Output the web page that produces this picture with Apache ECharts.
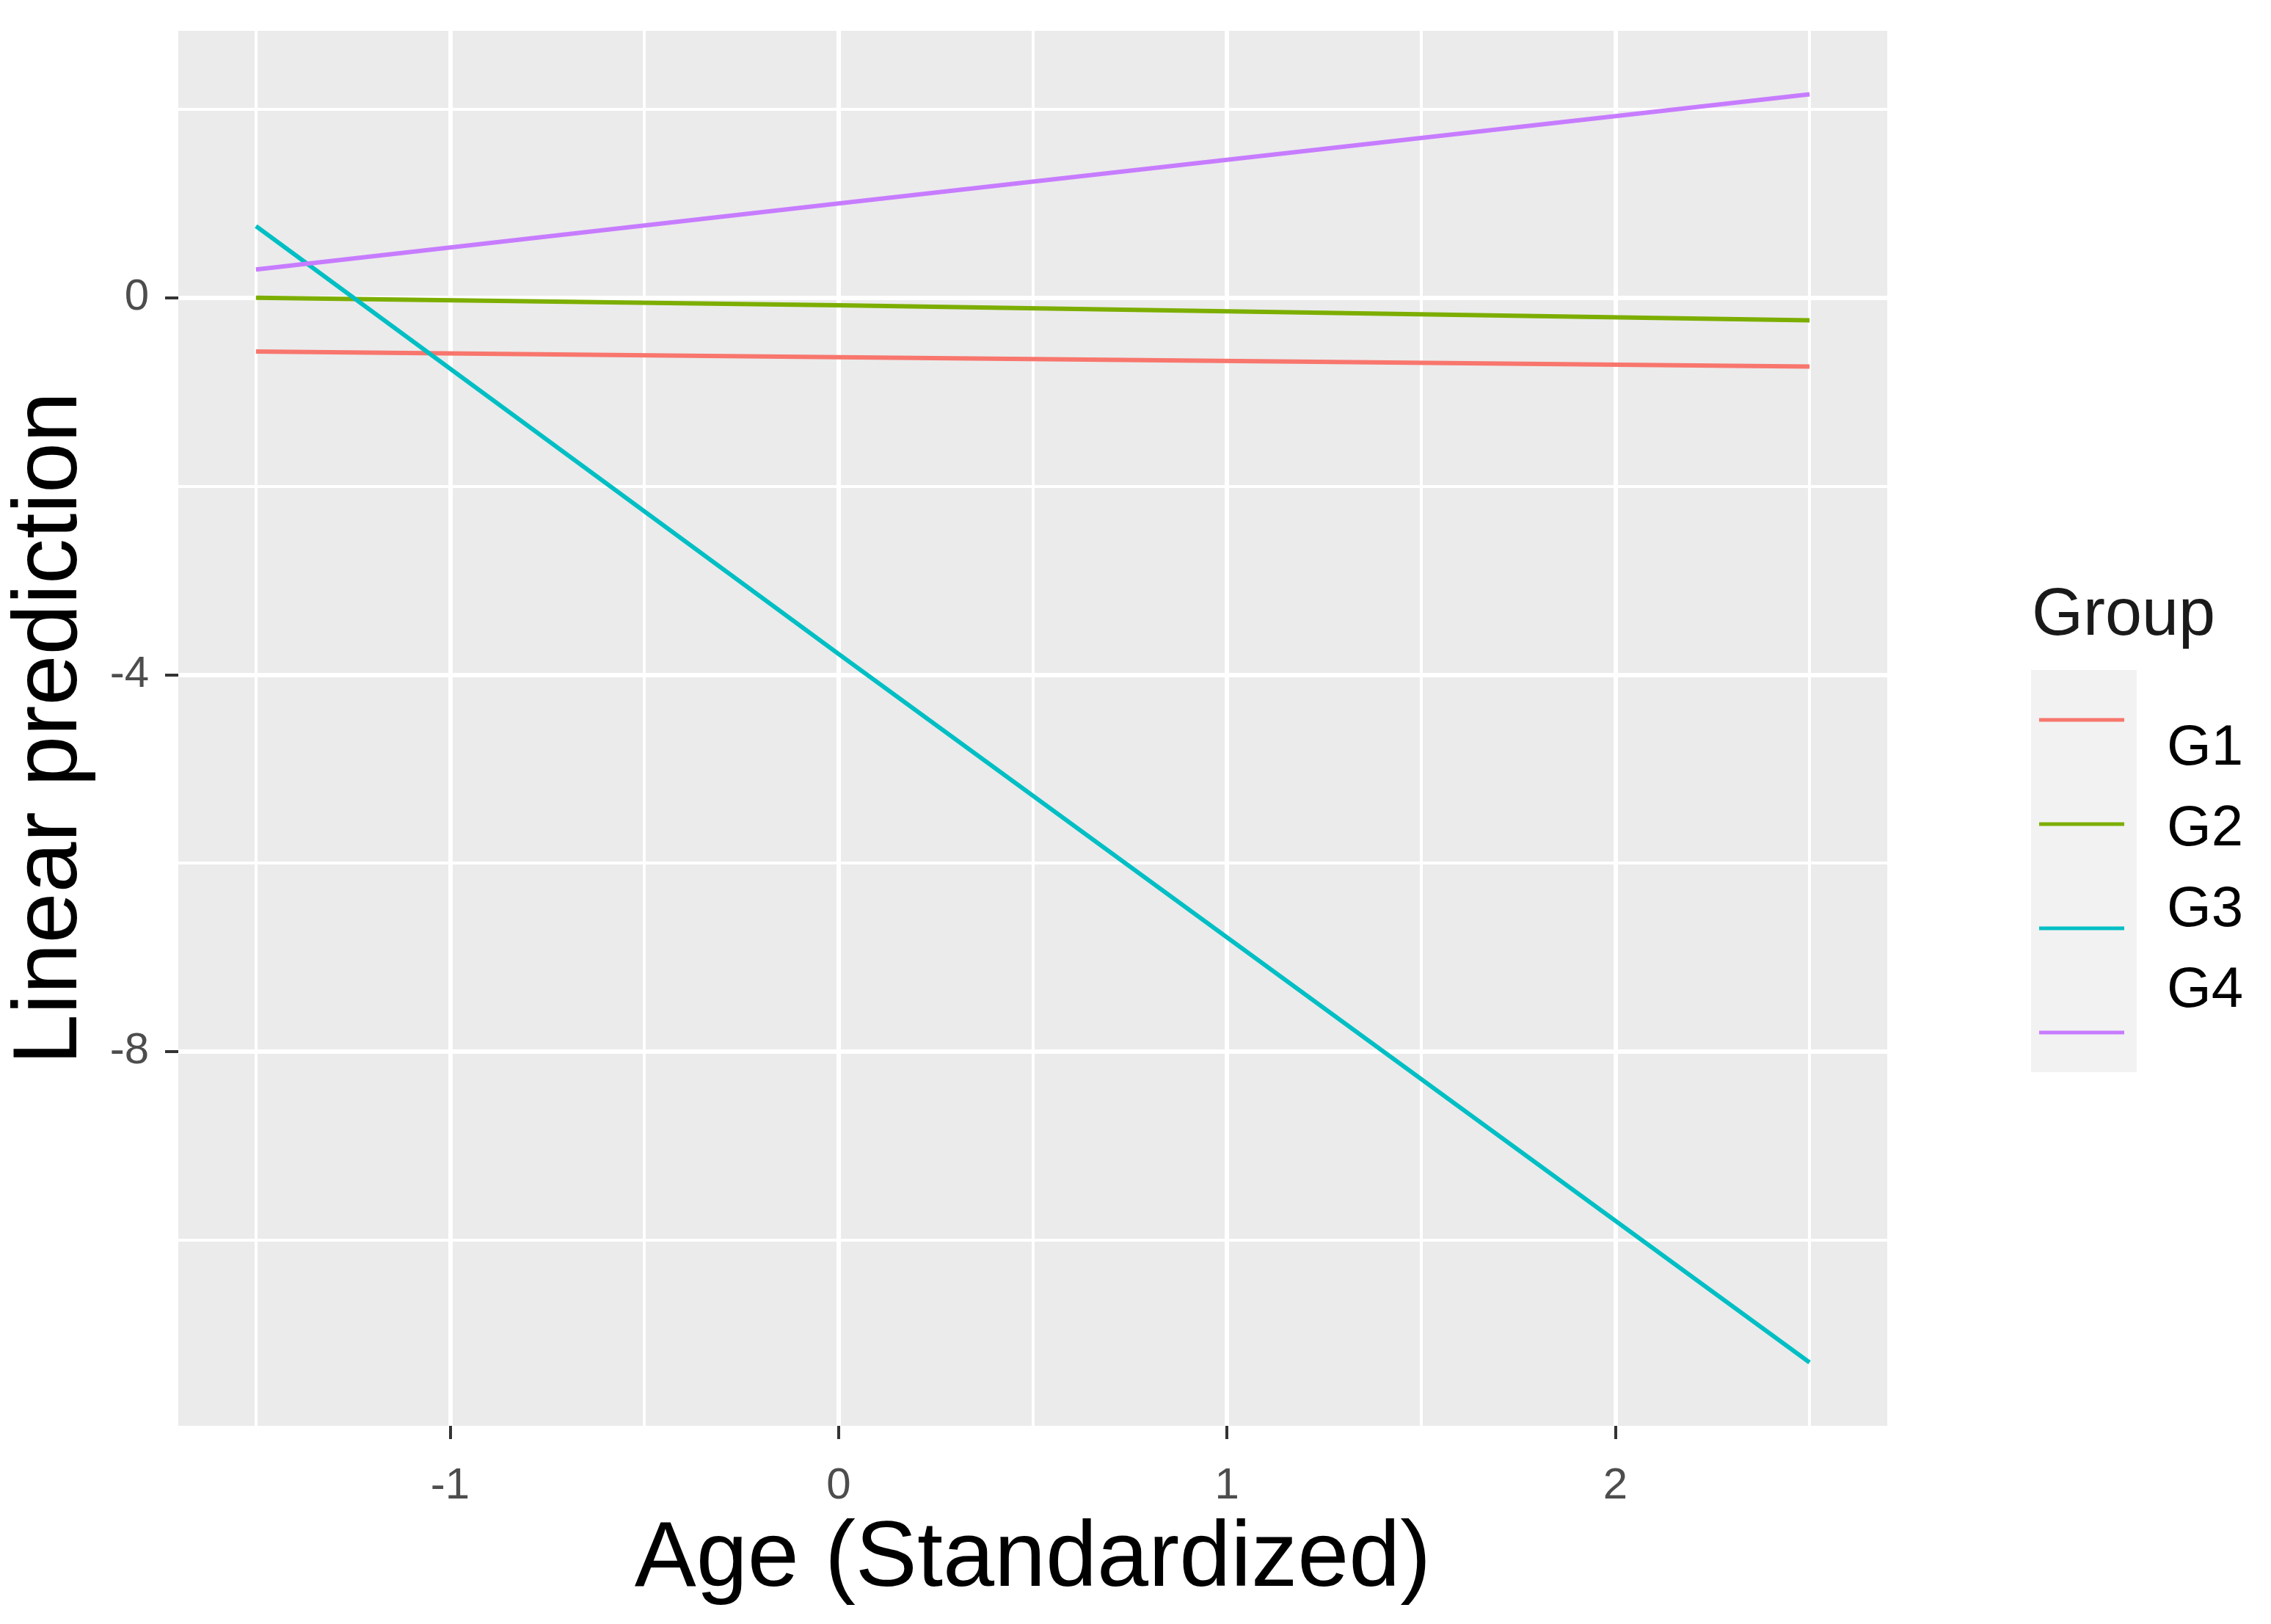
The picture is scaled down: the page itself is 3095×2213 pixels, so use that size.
<!DOCTYPE html>
<html>
<head>
<meta charset="utf-8">
<script src="https://cdn.jsdelivr.net/npm/echarts@6/dist/echarts.min.js"></script>
<style>
html,body{margin:0;padding:0;background:#ffffff;}
#chart{width:3095px;height:2213px;}
</style>
</head>
<body>
<div id="chart"></div>
<script>
// ---- data ----
const groups = ['G1', 'G2', 'G3', 'G4'];
const ageX = [-1.5, 0, 2.5];
const g1 = [-0.57, -0.63, -0.73];
const g2 = [0.00, -0.08, -0.24];
const g3 = [0.76, -3.78, -11.30];
const g4 = [0.30, 1.00, 2.16];
const xMajorTicks = [-1, 0, 1, 2];
const xMinorTicks = [-1.5, -0.5, 0.5, 1.5, 2.5];
const yMajorTicks = [-8, -4, 0];
const yMinorTicks = [-10, -6, -2, 2];
const groupColors = ['#F8766D', '#7CAE00', '#00BFC4', '#C77CFF'];

const seriesValues = [g1, g2, g3, g4];

// ggplot-style 5% expansion of the data range
function expand(vals) {
  const lo = Math.min(...vals), hi = Math.max(...vals);
  const pad = (hi - lo) * 0.05;
  return [lo - pad, hi + pad];
}
const xExt = expand(ageX);
const yExt = expand([].concat(g1, g2, g3, g4));

const FONT = 'Liberation Sans, Arial, sans-serif';

const chart = echarts.init(document.getElementById('chart'), null, {renderer: 'canvas'});

const baseX = {type: 'value', min: xExt[0], max: xExt[1], axisLine: {show: false, onZero: false}};
const baseY = {type: 'value', min: yExt[0], max: yExt[1], axisLine: {show: false, onZero: false}};

const option = {
  backgroundColor: '#ffffff',
  animation: false,
  title: {
    text: 'Group',
    left: 2769, top: 795, padding: 0,
    textStyle: {fontSize: 90, fontWeight: 'normal', color: '#1A1A1A', fontFamily: FONT}
  },
  grid: {
    left: 240, top: 42, right: 523, bottom: 270,
    show: true, backgroundColor: '#EBEBEB', borderWidth: 0
  },
  xAxis: [
    Object.assign({}, baseX, {
      position: 'bottom',
      name: 'Age (Standardized)',
      nameLocation: 'middle',
      nameGap: 120,
      nameTextStyle: {fontSize: 126, color: '#000000', fontFamily: FONT},
      axisTick: {show: true, length: 18, customValues: xMajorTicks, lineStyle: {color: '#333333', width: 4}},
      axisLabel: {customValues: xMajorTicks, fontSize: 60, color: '#4D4D4D', margin: 52, fontFamily: FONT},
      splitLine: {show: true, lineStyle: {color: '#FFFFFF', width: 6}}
    }),
    Object.assign({}, baseX, {
      position: 'bottom',
      axisTick: {show: false, customValues: xMinorTicks},
      axisLabel: {show: false, customValues: xMinorTicks},
      splitLine: {show: true, lineStyle: {color: '#FFFFFF', width: 4}}
    })
  ],
  yAxis: [
    Object.assign({}, baseY, {
      position: 'left',
      name: 'Linear prediction',
      nameLocation: 'middle',
      nameGap: 111,
      nameTextStyle: {fontSize: 124, color: '#000000', fontFamily: FONT},
      axisTick: {show: true, length: 18, customValues: yMajorTicks, lineStyle: {color: '#333333', width: 4}},
      axisLabel: {customValues: yMajorTicks, fontSize: 60, color: '#4D4D4D', margin: 40, fontFamily: FONT},
      splitLine: {show: true, lineStyle: {color: '#FFFFFF', width: 6}}
    }),
    Object.assign({}, baseY, {
      position: 'left',
      axisTick: {show: false, customValues: yMinorTicks},
      axisLabel: {show: false, customValues: yMinorTicks},
      splitLine: {show: true, lineStyle: {color: '#FFFFFF', width: 4}}
    })
  ],
  legend: [
    {
      orient: 'vertical',
      left: 2768, top: 913,
      data: groups,
      icon: 'rect',
      itemWidth: 116, itemHeight: 5, itemGap: 137,
      formatter: function () { return ''; },
      textStyle: {fontSize: 1, lineHeight: 1},
      backgroundColor: '#F2F2F2',
      padding: [65.5, 12, 51.5, 11]
    },
    {
      orient: 'vertical',
      left: 2938, top: 981,
      data: groups,
      icon: 'rect',
      itemWidth: 10, itemHeight: 10, itemGap: 32,
      itemStyle: {color: 'rgba(0,0,0,0)', opacity: 0},
      padding: 0,
      textStyle: {fontSize: 78, lineHeight: 78, color: '#000000', fontFamily: FONT}
    }
  ],
  series: groups.map(function (name, i) {
    return {
      name: name,
      type: 'line',
      xAxisIndex: 0,
      yAxisIndex: 0,
      showSymbol: false,
      symbol: 'none',
      z: 5,
      color: groupColors[i],
      lineStyle: {width: 6, color: groupColors[i]},
      data: ageX.map(function (x, k) { return [x, seriesValues[i][k]]; })
    };
  })
};

chart.setOption(option);
</script>
</body>
</html>
